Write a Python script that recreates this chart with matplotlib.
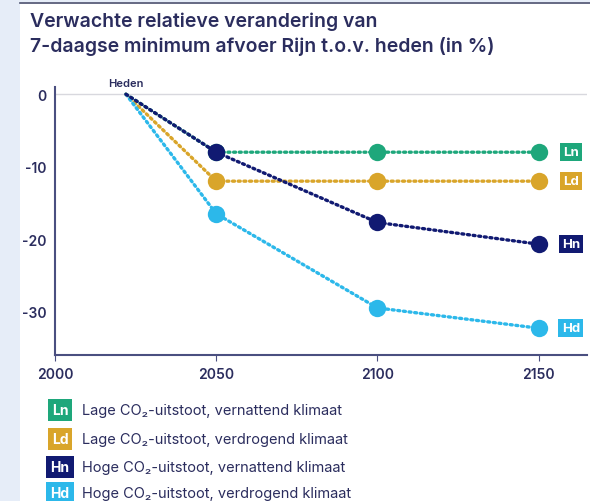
import matplotlib.pyplot as plt
from matplotlib.patches import Rectangle
from matplotlib.lines import Line2D

plt.rcParams['font.family'] = ['Inter', 'DejaVu Sans']
plt.rcParams['axes.unicode_minus'] = False

# data
years = [2022, 2050, 2100, 2150]
ln = [0, -8, -8, -8]
ld = [0, -12, -12, -12]
hn = [0, -8, -17.7, -20.7]
hd = [0, -16.5, -29.5, -32.3]
codes = ["Ln", "Ld", "Hn", "Hd"]
labels = ["Lage CO₂-uitstoot, vernattend klimaat",
          "Lage CO₂-uitstoot, verdrogend klimaat",
          "Hoge CO₂-uitstoot, vernattend klimaat",
          "Hoge CO₂-uitstoot, verdrogend klimaat"]
colors = {"Ln": "#1ea77b", "Ld": "#d9a52a", "Hn": "#111a72", "Hd": "#2cb8ea"}
navy = "#2b2d5e"

W, H = 590, 502
fig = plt.figure(figsize=(W / 100, H / 100), dpi=100, facecolor="white")

# light frame on the left and top
fig.patches.append(Rectangle((0, 0), 20 / W, 1, transform=fig.transFigure,
                             facecolor="#e6edf8", edgecolor="none", zorder=0))
fig.patches.append(Rectangle((0, 1 - 3 / H), 1, 3 / H, transform=fig.transFigure,
                             facecolor="#e6edf8", edgecolor="none", zorder=0))
fig.lines.append(Line2D([20 / W, 1], [1 - 3.5 / H, 1 - 3.5 / H], transform=fig.transFigure,
                        color="#4a4f6e", lw=1.2))

fig.text(30 / W, 1 - 22 / H, "Verwachte relatieve verandering van", fontsize=14,
         fontweight="semibold", color=navy, va="center")
fig.text(30 / W, 1 - 47 / H, "7-daagse minimum afvoer Rijn t.o.v. heden (in %)", fontsize=14,
         fontweight="semibold", color=navy, va="center")

ax = fig.add_axes([55 / W, (H - 356) / H, 532 / W, 268 / H])
ax.set_xlim(2000, 2165)
ax.set_ylim(-36, 1)

ax.axhline(0, color="#d8d8de", lw=1, zorder=0)

series = {"Ln": ln, "Ld": ld, "Hd": hd, "Hn": hn}
for code, vals in series.items():
    c = colors[code]
    ax.plot(years, vals, color=c, lw=2.4, linestyle=(0, (0.6, 1.1)),
            dash_capstyle="round", marker="o", markersize=12.5, markevery=[1, 2, 3],
            markeredgewidth=0, zorder=3)
    ax.text(2160, vals[-1], code, color="white", fontsize=9.5, fontweight="bold",
            ha="center", va="center", zorder=4,
            bbox=dict(boxstyle="square,pad=0.25", facecolor=c, edgecolor="none"))

ax.text(years[0], 0.9, "Heden", fontsize=8, color=navy, ha="center", va="bottom",
        fontweight="semibold")

for s in ["top", "right"]:
    ax.spines[s].set_visible(False)
for s in ["left", "bottom"]:
    ax.spines[s].set_color("#4a4f80")
    ax.spines[s].set_linewidth(1.5)

ax.set_xticks([2000, 2050, 2100, 2150])
ax.set_yticks([0, -10, -20, -30])
ax.tick_params(axis="x", length=4, color="#4a4f80", labelsize=10, labelcolor=navy, pad=5)
ax.tick_params(axis="y", length=0, labelsize=10, labelcolor=navy, pad=6)
for t in ax.get_xticklabels() + ax.get_yticklabels():
    t.set_fontweight("semibold")

# legend
rows_y = [411, 440, 468, 494]
for code, lab, yy in zip(codes, labels, rows_y):
    fig.text(60 / W, 1 - yy / H, code, color="white", fontsize=10, fontweight="bold",
             ha="center", va="center",
             bbox=dict(boxstyle="square,pad=0.3", facecolor=colors[code], edgecolor="none"))
    fig.text(82 / W, 1 - yy / H, lab, color=navy, fontsize=10.5, va="center")

fig.savefig("out.png", dpi=100, facecolor="white")
